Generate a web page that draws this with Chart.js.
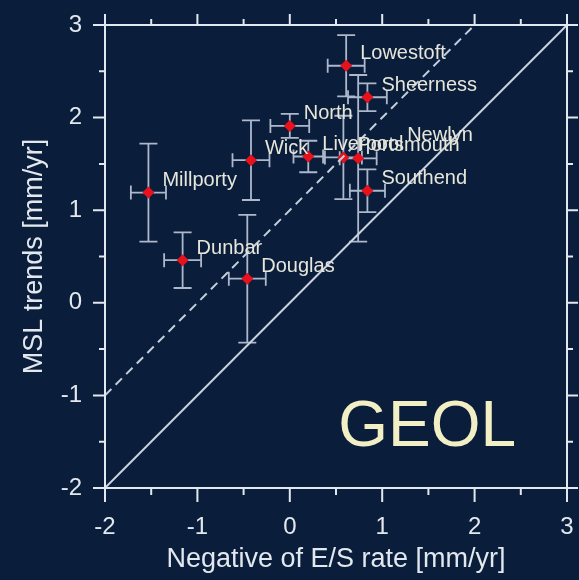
<!DOCTYPE html>
<html>
<head>
<meta charset="utf-8">
<script src="https://cdn.jsdelivr.net/npm/chart.js@4.4.1/dist/chart.umd.min.js"></script>
<style>
  html, body { margin: 0; padding: 0; background: #0a1d3b; }
  #wrap { width: 579px; height: 580px; }
</style>
</head>
<body>
<div id="wrap"><canvas id="chart" width="579" height="580"></canvas></div>
<script>
// tide gauge stations: negative E/S rate vs MSL trend, both mm/yr
const stations = ['Lowestoft', 'Sheerness', 'North', 'Wick', 'Liverpool', 'Portsmouth', 'Newlyn', 'Southend', 'Millporty', 'Dunbar', 'Douglas'];
const esRate   = [0.61, 0.84, 0.00, -0.42, 0.20, 0.58, 0.74, 0.84, -1.53, -1.16, -0.46];
const mslTrend = [2.56, 2.22, 1.91, 1.54, 1.58, 1.57, 1.56, 1.21, 1.19, 0.46, 0.26];
const esErr    = [0.20, 0.21, 0.21, 0.20, 0.16, 0.20, 0.20, 0.19, 0.19, 0.20, 0.20];
const mslErr   = [0.33, 0.15, 0.13, 0.43, 0.17, 0.45, 0.90, 0.23, 0.53, 0.30, 0.69];

const axisMin = -2, axisMax = 3;
const oneToOneX = [-2, 3];      // y = x
const offsetLineX = [-2, 2];    // y = x + 1
const offsetLineShift = 1;

const BG = '#0a1d3b';
const FG = '#e2e8ee';
const FONT = '"Liberation Sans", Arial, Helvetica, sans-serif';

const bgPlugin = {
  id: 'bg',
  beforeDraw(chart) {
    const ctx = chart.ctx;
    ctx.save();
    ctx.fillStyle = BG;
    ctx.fillRect(0, 0, chart.width, chart.height);
    ctx.restore();
  }
};

// error bars under the red markers
const errorBars = {
  id: 'errorBars',
  beforeDatasetDraw(chart, args) {
    if (args.index !== 2) return;
    const { ctx, scales: { x, y } } = chart;
    ctx.save();
    ctx.strokeStyle = '#adb8cc';
    ctx.lineWidth = 1.8;
    esRate.forEach((v, i) => {
      const px = x.getPixelForValue(v), py = y.getPixelForValue(mslTrend[i]);
      const x0 = x.getPixelForValue(v - esErr[i]), x1 = x.getPixelForValue(v + esErr[i]);
      const y0 = y.getPixelForValue(mslTrend[i] - mslErr[i]), y1 = y.getPixelForValue(mslTrend[i] + mslErr[i]);
      ctx.beginPath();
      ctx.moveTo(x0, py); ctx.lineTo(x1, py);
      ctx.moveTo(x0, py - 7); ctx.lineTo(x0, py + 7);
      ctx.moveTo(x1, py - 7); ctx.lineTo(x1, py + 7);
      ctx.moveTo(px, y0); ctx.lineTo(px, y1);
      ctx.moveTo(px - 9, y0); ctx.lineTo(px + 9, y0);
      ctx.moveTo(px - 9, y1); ctx.lineTo(px + 9, y1);
      ctx.stroke();
    });
    ctx.restore();
  }
};

// box frame with major/minor ticks on all four sides
const frame = {
  id: 'frame',
  afterDatasetsDraw(chart) {
    const { ctx, chartArea: a, scales: { x, y } } = chart;
    ctx.save();
    ctx.strokeStyle = FG;
    ctx.lineWidth = 2;
    ctx.strokeRect(a.left, a.top, a.right - a.left, a.bottom - a.top);
    ctx.beginPath();
    for (let v = axisMin; v <= axisMax + 1e-9; v += 0.5) {
      const major = Number.isInteger(v);
      const px = x.getPixelForValue(v), py = y.getPixelForValue(v);
      const bl = major ? 14 : 7, ol = major ? 11 : 6;
      ctx.moveTo(px, a.bottom); ctx.lineTo(px, a.bottom + bl);
      ctx.moveTo(px, a.top); ctx.lineTo(px, a.top - ol);
      ctx.moveTo(a.left, py); ctx.lineTo(a.left - (major ? 12 : 6), py);
      ctx.moveTo(a.right, py); ctx.lineTo(a.right + ol, py);
    }
    ctx.stroke();
    ctx.restore();
  }
};

const stationLabels = {
  id: 'stationLabels',
  afterDatasetsDraw(chart) {
    const { ctx, scales: { x, y } } = chart;
    ctx.save();
    ctx.font = '20px ' + FONT;
    ctx.fillStyle = '#e6e6da';
    ctx.textAlign = 'left';
    ctx.textBaseline = 'middle';
    stations.forEach((name, i) => {
      let dx = 14, dy = -12;
      if (name === 'Newlyn') { dx = 49; dy = -23; }
      ctx.fillText(name, x.getPixelForValue(esRate[i]) + dx, y.getPixelForValue(mslTrend[i]) + dy);
    });
    ctx.restore();
  }
};

const stamp = {
  id: 'stamp',
  afterDraw(chart) {
    const { ctx, chartArea: a } = chart;
    ctx.save();
    ctx.font = '64px ' + FONT;
    ctx.textAlign = 'right';
    ctx.textBaseline = 'alphabetic';
    ctx.fillStyle = '#f3efc4';
    ctx.fillText('GEOL', a.right - 51, a.bottom - 42);
    ctx.restore();
  }
};

new Chart(document.getElementById('chart'), {
  type: 'scatter',
  data: {
    datasets: [
      {
        type: 'line',
        data: oneToOneX.map(v => ({ x: v, y: v })),
        borderColor: '#c9d2de',
        borderWidth: 2,
        pointRadius: 0
      },
      {
        type: 'line',
        data: offsetLineX.map(v => ({ x: v, y: v + offsetLineShift })),
        borderColor: '#c4cedc',
        borderWidth: 2,
        borderDash: [9, 6],
        pointRadius: 0
      },
      {
        data: esRate.map((v, i) => ({ x: v, y: mslTrend[i] })),
        pointStyle: 'rectRot',
        pointRadius: 6,
        pointBackgroundColor: '#e8121c',
        pointBorderColor: '#e8121c',
        pointBorderWidth: 0
      }
    ]
  },
  options: {
    responsive: false,
    animation: false,
    events: [],
    layout: { padding: { left: 0, right: 12, top: 25, bottom: 0 } },
    plugins: { legend: { display: false }, tooltip: { enabled: false } },
    scales: {
      x: {
        type: 'linear',
        min: axisMin, max: axisMax,
        grid: { display: false, drawTicks: true, tickLength: 12 },
        border: { display: false },
        ticks: { stepSize: 1, color: FG, padding: 13, font: { family: FONT, size: 24 }, maxRotation: 0 },
        title: { display: true, text: 'Negative of E/S rate [mm/yr]', color: FG, font: { family: FONT, size: 27 }, padding: { bottom: 4 } },
        afterFit(scale) {
          scale.height = 92;
          scale.paddingLeft = 0;
          scale.paddingRight = 0;
        }
      },
      y: {
        type: 'linear',
        min: axisMin, max: axisMax,
        grid: { display: false, drawTicks: true, tickLength: 12 },
        border: { display: false },
        ticks: { stepSize: 1, color: FG, padding: 11, font: { family: FONT, size: 24 } },
        title: { display: true, text: 'MSL trends [mm/yr]', color: FG, font: { family: FONT, size: 27 }, padding: { top: 18 } },
        afterFit(scale) {
          scale.width = 105;
          scale.paddingTop = 0;
          scale.paddingBottom = 0;
        }
      }
    }
  },
  plugins: [bgPlugin, errorBars, frame, stationLabels, stamp]
});
</script>
</body>
</html>
